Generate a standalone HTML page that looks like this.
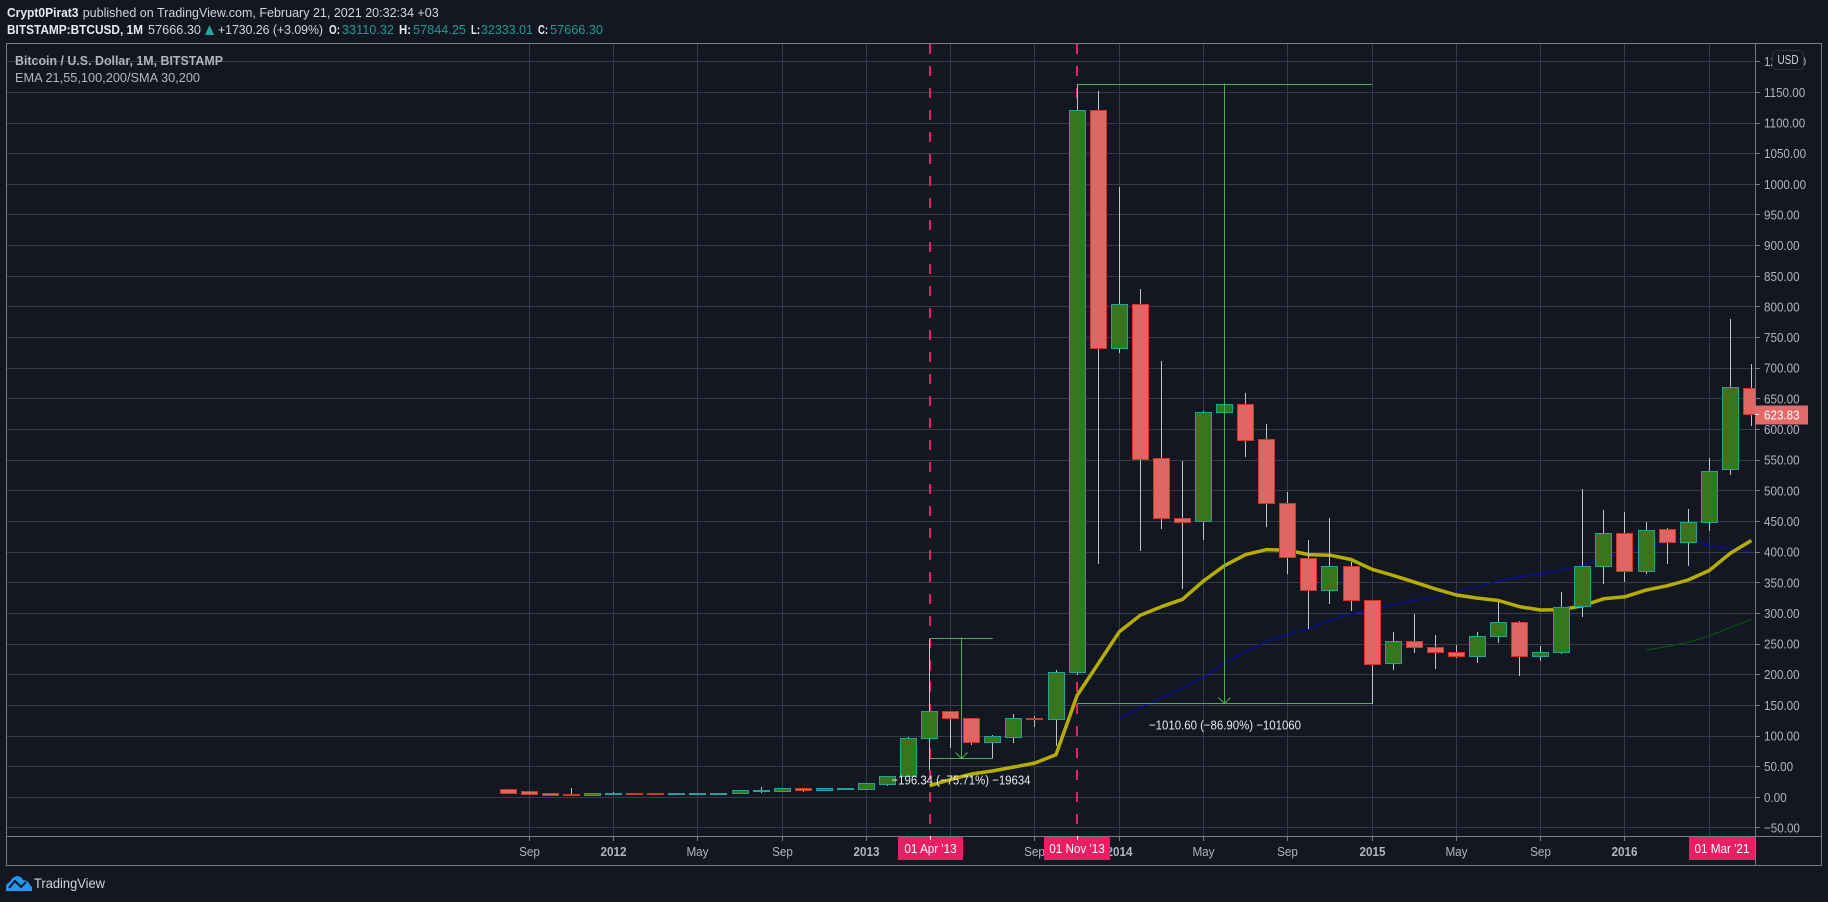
<!DOCTYPE html>
<html lang="en">
<head>
<meta charset="utf-8">
<title>BTCUSD 1M chart</title>
<style>
html,body{margin:0;padding:0;background:#131722;width:1828px;height:902px;overflow:hidden}
svg{display:block;position:absolute;left:0;top:0}
text{font-family:"Liberation Sans",sans-serif;font-size:13px}
</style>
</head>
<body>
<svg id="chart" width="1828" height="902" viewBox="0 0 1828 902" xmlns="http://www.w3.org/2000/svg">
  <defs><clipPath id="plot-clip"><rect x="6" y="44" width="1749.5" height="792"/></clipPath></defs>
  <rect x="0" y="0" width="1828" height="902" fill="#131722"/>
  <g>
    <text x="7" y="17" font-weight="bold" fill="#e8eaf0" textLength="71.5" lengthAdjust="spacingAndGlyphs">Crypt0Pirat3</text>
    <text x="82.7" y="17" fill="#d1d4dc" textLength="356" lengthAdjust="spacingAndGlyphs">published on TradingView.com, February 21, 2021 20:32:34 +03</text>
  </g>
  <g>
    <text x="7" y="34" font-weight="bold" fill="#e8eaf0" textLength="136" lengthAdjust="spacingAndGlyphs">BITSTAMP:BTCUSD, 1M</text>
    <text x="148" y="34" fill="#d1d4dc" textLength="53" lengthAdjust="spacingAndGlyphs">57666.30</text>
    <polygon points="205,35 214,35 209.5,25" fill="#26a69a"/>
    <text x="218" y="34" fill="#d1d4dc" textLength="105" lengthAdjust="spacingAndGlyphs">+1730.26 (+3.09%)</text>
    <text x="329" y="34" font-weight="bold" fill="#e8eaf0" textLength="11" lengthAdjust="spacingAndGlyphs">O:</text>
    <text x="342" y="34" fill="#239a8f" textLength="52" lengthAdjust="spacingAndGlyphs">33110.32</text>
    <text x="399" y="34" font-weight="bold" fill="#e8eaf0" textLength="12" lengthAdjust="spacingAndGlyphs">H:</text>
    <text x="413" y="34" fill="#239a8f" textLength="53" lengthAdjust="spacingAndGlyphs">57844.25</text>
    <text x="471" y="34" font-weight="bold" fill="#e8eaf0" textLength="9" lengthAdjust="spacingAndGlyphs">L:</text>
    <text x="481" y="34" fill="#239a8f" textLength="52" lengthAdjust="spacingAndGlyphs">32333.01</text>
    <text x="538" y="34" font-weight="bold" fill="#e8eaf0" textLength="10" lengthAdjust="spacingAndGlyphs">C:</text>
    <text x="550" y="34" fill="#239a8f" textLength="53" lengthAdjust="spacingAndGlyphs">57666.30</text>
  </g>
  <g id="grid"></g>
  <g id="dashes"></g>
  <g clip-path="url(#plot-clip)">
    <g id="lines-under"></g>
    <g id="candles"></g>
  </g>
  <g id="drawings"></g>
  <g>
    <text x="15" y="65" fill="#b2b5be" font-weight="bold" textLength="208" lengthAdjust="spacingAndGlyphs">Bitcoin / U.S. Dollar, 1M, BITSTAMP</text>
    <text x="15" y="82" fill="#b2b5be" textLength="185" lengthAdjust="spacingAndGlyphs">EMA 21,55,100,200/SMA 30,200</text>
  </g>
  <g id="frame">
    <rect x="6.5" y="43.5" width="1815" height="822" fill="none" stroke="#787b80"/>
    <line x1="1755.5" y1="44" x2="1755.5" y2="865" stroke="#787b80"/>
    <line x1="7" y1="836.5" x2="1821" y2="836.5" stroke="#787b80"/>
  </g>
  <g id="price-axis"></g>
  <g id="time-axis"></g>
  <g id="tags"></g>
  <g>
    <rect x="1772.5" y="50.5" width="31" height="19" rx="4" fill="#131722" stroke="#2f3341"/>
    <text x="1777.5" y="64" fill="#d1d4dc" textLength="21" lengthAdjust="spacingAndGlyphs">USD</text>
  </g>
  <g>
    <path d="M6,891 L6,886 Q7,883 10,882 Q12,877 17,876 Q21,876 23,880 Q28,880 30,885 L32,887 L32,891 Z" fill="#2196f3"/>
    <polyline points="9,888 15,881 21,887 26,882" fill="none" stroke="#131722" stroke-width="2"/>
    <text x="34" y="888" fill="#d1d4dc" style="font-size:13.5px" textLength="71" lengthAdjust="spacingAndGlyphs">TradingView</text>
  </g>
</svg>
<script>
const categories = ["Aug 2011","Sep 2011","Oct 2011","Nov 2011","Dec 2011",
"Jan 2012","Feb 2012","Mar 2012","Apr 2012","May 2012","Jun 2012","Jul 2012","Aug 2012","Sep 2012","Oct 2012","Nov 2012","Dec 2012",
"Jan 2013","Feb 2013","Mar 2013","Apr 2013","May 2013","Jun 2013","Jul 2013","Aug 2013","Sep 2013","Oct 2013","Nov 2013","Dec 2013",
"Jan 2014","Feb 2014","Mar 2014","Apr 2014","May 2014","Jun 2014","Jul 2014","Aug 2014","Sep 2014","Oct 2014","Nov 2014","Dec 2014",
"Jan 2015","Feb 2015","Mar 2015","Apr 2015","May 2015","Jun 2015","Jul 2015","Aug 2015","Sep 2015","Oct 2015","Nov 2015","Dec 2015",
"Jan 2016","Feb 2016","Mar 2016","Apr 2016","May 2016","Jun 2016","Jul 2016"];
const opens = [12,8.7,5.4,3.8,2.2,
3.8,7,5.4,3.8,3.8,3.8,5.4,8.7,8.7,13.6,10.3,12,
12,20.6,34,96,140,128,89,98,129,127,203,1121,
732,804,553,455,450,627,641,584,479.6,390,337,377,
321,218,254,245,236,229,262,285,229,236,311,376,
431,368,437,415,449,534,667];
const highs = [13.6,9.8,7,15,5.4,
8.7,7,7,7,5.4,7,10.3,17,13.6,13.6,13.6,15,
21.7,34.3,98,259,140,128,101,136,132,207,1163,1153,
996,829,711,549,630,641,659.5,609,498,420,455,384,
321,270,299,265,248,270,319,288,247,335,503,469,
465,449,439,470,553,780,707];
const lows = [7,3.8,2.2,2.2,2.2,
3.8,3.8,3.8,3.8,3.8,3.8,5.4,7,8.7,8.7,10.3,12,
12,19,34,44,80,86,63.6,89,115,84,200,380,
725,401,437,340,419,627,555,441,364,274,316,304,
153,208,236,209,227,219,252,198,222,233,294,348,
351,365,380,377,434,525,606];
const closes = [7,3.8,2.2,2.2,5.4,
5.4,3.8,3.8,5.4,5.4,7,10.3,10.3,13.6,10.3,13.6,13.6,
21.7,34.3,96,140,128,89,99.5,129,127,204,1121,732,
804,551,454.5,448,628,641,582,479,391,337,377,321,
216,254,244,236,229,263,285,229,236,310,377,431,
368,435,415,449,532,669,623.83];
const sma30Values = [null,null,null,null,null,null,null,null,null,null,null,null,null,null,null,null,null,null,null,null,
19,29,38,43,49.5,56,69.6,166,218,
270,297,311,323,353,378,396,404,403,396,395,388,
372,362,351,340,330,325,321,311,305.5,306,312.6,324,
327,338,345,354.5,370,398,419];
const ema55Values = [null,null,null,null,null,null,null,null,null,null,null,null,null,null,null,null,null,null,null,null,null,null,null,null,null,null,null,null,null,
128,146,162,178,196,218.6,237.5,254,266,275.7,289,299,
305.5,314,321,327,335.5,343.6,353,360,365,371,379,391,
399,409,415,422.5,410,406,400.6];
const ema100Values = [null,null,null,null,null,null,null,null,null,null,null,null,null,null,null,null,null,null,null,null,null,null,null,null,null,null,null,null,null,
null,null,null,null,null,null,null,null,null,null,null,null,
null,null,null,null,null,null,null,null,null,null,null,null,
null,240,246,253,263,277,290];
const priceTicks = [-50,0,50,100,150,200,250,300,350,400,450,500,550,600,650,700,750,800,850,900,950,1000,1050,1100,1150,1200];
const timeTickMonths = ["Sep 2011","Jan 2012","May 2012","Sep 2012","Jan 2013","May 2013","Sep 2013","Jan 2014","May 2014","Sep 2014","Jan 2015","May 2015","Sep 2015","Jan 2016","May 2016"];
const timeTickLabels = ["Sep","2012","May","Sep","2013","May","Sep","2014","May","Sep","2015","May","Sep","2016","May"];
const markerMonths = ["Apr 2013","Nov 2013"];
const markerLabels = ["01 Apr '13","01 Nov '13"];
const cursorLabel = "01 Mar '21";
const lastPrice = 623.83;
const measureLabels = ["\u2212196.34 (\u221275.71%) \u221219634","\u22121010.60 (\u221286.90%) \u2212101060"];
const measureTops = [259,1163];
const measureBottoms = [63.6,153];

const NS = "http://www.w3.org/2000/svg";
function xScale(i){ return 529.3 + 21.07 * (i - 1); }
function xMonth(m){ return xScale(categories.indexOf(m)); }
function yScale(v){ return 797.3 - 0.613 * v; }
function px(v){ return Math.floor(v) + 0.5; }
function make(parent, tag, attrs, text){
  const el = document.createElementNS(NS, tag);
  for (const k in attrs) el.setAttribute(k, attrs[k]);
  if (text !== undefined) el.textContent = text;
  parent.appendChild(el);
  return el;
}
function squeeze(el, factor){
  el.setAttribute('textLength', (el.getComputedTextLength() * factor).toFixed(1));
  el.setAttribute('lengthAdjust', 'spacingAndGlyphs');
}
const gridG = document.getElementById("grid");
const dashG = document.getElementById("dashes");
const lineG = document.getElementById("lines-under");
const candleG = document.getElementById("candles");
const drawG = document.getElementById("drawings");
const priceG = document.getElementById("price-axis");
const timeG = document.getElementById("time-axis");
const tagG = document.getElementById("tags");
const GRID = "#363a4a", AXIS = "#787b80", LABEL = "#b2b5be";

priceTicks.forEach(function(v){
  const y = px(yScale(v));
  const g = make(gridG, "line", {x1:6, y1:y, x2:1755, y2:y, stroke:GRID});
  
  
  const t = make(priceG, "line", {x1:1755, y1:y, x2:1760, y2:y, stroke:AXIS});
  
  
  const s = (v < 0 ? "\u2212" + Math.abs(v).toFixed(2) : v.toFixed(2));
  const l = make(priceG, "text", {x:1764, y:yScale(v)+4.5, fill:LABEL}, s);
  
  
  squeeze(l, 0.895);
});
timeTickMonths.forEach(function(m, k){
  const x = px(xMonth(m));
  const g = make(gridG, "line", {x1:x, y1:44, x2:x, y2:836, stroke:GRID});
  
  
  const t = make(timeG, "line", {x1:x, y1:836, x2:x, y2:841, stroke:AXIS});
  
  
  const isYear = /^\d/.test(timeTickLabels[k]);
  const l = make(timeG, "text", {x:x, y:856, fill:LABEL, "text-anchor":"middle", "font-weight":isYear?"bold":"normal"}, timeTickLabels[k]);
  
  
  squeeze(l, 0.9);
});
markerMonths.forEach(function(m, k){
  const x = xMonth(m);
  const d = make(dashG, "line", {x1:Math.round(x), y1:44, x2:Math.round(x), y2:836, stroke:"#e91e63", "stroke-width":2, "stroke-dasharray":"10 12"});
  
  
  const tx = Math.round(x) - 32 - (k ? 1 : 0), w = 65 + (k ? 1 : 0);
  const r = make(tagG, "rect", {x:tx, y:837, width:w, height:23, fill:"#e91e63"});
  
  
  const l = make(tagG, "text", {x:tx + w/2, y:853, fill:"#fff", "text-anchor":"middle"}, markerLabels[k]);
  
  
  squeeze(l, 0.9);
  const tk = make(tagG, "line", {x1:Math.round(x)+0.5, y1:836, x2:Math.round(x)+0.5, y2:840, stroke:"#fff"});
  
  
});
function drawLine(values, color, width, name){
  const pts = [];
  values.forEach(function(v, i){ if (v !== null) pts.push(xScale(i).toFixed(1) + "," + yScale(v).toFixed(1)); });
  const p = make(lineG, "polyline", {points:pts.join(" "), fill:"none", stroke:color, "stroke-width":width, "stroke-linejoin":"round"});
  
  
}
drawLine(ema100Values, "#0c5212", 1.2, "ema-green-line");
drawLine(ema55Values, "#0b0ba8", 1.2, "ema-blue-line");
drawLine(sma30Values, "#b5ae00", 3.5, "sma-yellow-line");

categories.forEach(function(m, i){
  const cx = px(xScale(i));
  const o = opens[i], c = closes[i], up = c >= o;
  const w = make(candleG, "line", {x1:cx, y1:Math.round(yScale(highs[i])), x2:cx, y2:Math.round(yScale(lows[i])), stroke:"#c4c4c4"});
  
  
  const top = px(yScale(Math.max(o,c))), bot = px(yScale(Math.min(o,c)));
  const b = make(candleG, "rect", {x:cx-8, y:top, width:16, height:Math.max(bot-top,1),
    fill: up ? "#38761d" : "#e06666", stroke: up ? "#1fa39a" : "#cc3a20", "shape-rendering":"crispEdges"});
  
  
});

function drawMeasure(startMonth, endMonth, midX, idx){
  const x1 = xMonth(startMonth), x2 = xMonth(endMonth), xm = px(midX);
  const yT = px(yScale(measureTops[idx])), yB = px(yScale(measureBottoms[idx]));
  const C = "#4caf50";
  const a = make(drawG, "line", {x1:x1, y1:yT, x2:x2, y2:yT, stroke:C});
  
  
  const b = make(drawG, "line", {x1:x1, y1:yB, x2:x2, y2:yB, stroke:C});
  
  
  const v = make(drawG, "line", {x1:xm, y1:yT-1, x2:xm, y2:yB, stroke:C});
  
  
  const h = make(drawG, "polyline", {points:(xm-6)+","+(yB-6)+" "+xm+","+yB+" "+(xm+6)+","+(yB-6), fill:"none", stroke:C});
  
  
}
drawMeasure("Apr 2013","Jul 2013",(xMonth("Apr 2013")+xMonth("Jul 2013"))/2,0);
drawMeasure("Nov 2013","Jan 2015",xMonth("Jun 2014"),1);
const m1 = make(drawG, "text", {x:891.5, y:784.5, fill:"#e8eaf0", textLength:139, lengthAdjust:"spacingAndGlyphs"}, measureLabels[0]);


const m2 = make(drawG, "text", {x:1149, y:729.5, fill:"#e8eaf0", textLength:152, lengthAdjust:"spacingAndGlyphs"}, measureLabels[1]);



const cr = make(tagG, "rect", {x:1689, y:837, width:66, height:23, fill:"#e91e63"});


const cl = make(tagG, "text", {x:1722, y:853, fill:"#fff", "text-anchor":"middle"}, cursorLabel);


squeeze(cl, 0.9);

const py = yScale(lastPrice);
const pr = make(tagG, "rect", {x:1755, y:Math.round(py)-9.5, width:53, height:19, fill:"#e36a6a"});


const pt = make(tagG, "line", {x1:1755, y1:px(py), x2:1759, y2:px(py), stroke:"#fff"});


const pl = make(tagG, "text", {x:1764, y:py+4.5, fill:"#fff"}, lastPrice.toFixed(2));


squeeze(pl, 0.895);
</script>
</body>
</html>
